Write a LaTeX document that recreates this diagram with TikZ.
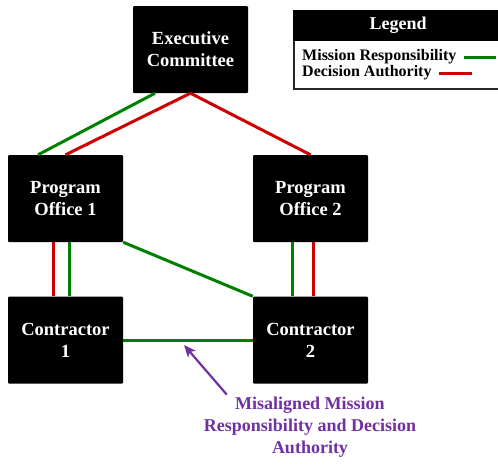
\documentclass[tikz,border=0pt]{standalone}
\usepackage{fontspec}
\setmainfont{Liberation Serif}
\usetikzlibrary{arrows.meta}
\definecolor{missiongreen}{RGB}{0,128,0}
\definecolor{decisionred}{RGB}{204,0,0}
\definecolor{notepurple}{RGB}{112,48,160}
\begin{document}
\begin{tikzpicture}[x=1pt,y=-1pt,%
      unit/.style={fill=black,rounded corners=1pt,text=white,%
        minimum width=115pt,minimum height=87pt,inner sep=0pt,%
        align=center,font=\bfseries\fontsize{18.5}{22}\selectfont},%
      mission/.style={draw=missiongreen,line width=3pt},%
      decision/.style={draw=decisionred,line width=3pt},%
      pointer/.style={draw=notepurple,line width=2.2pt,%
        -{Stealth[length=12pt,width=10pt,inset=3pt]}},%
      keytext/.style={anchor=base west,inner sep=0pt,%
        font=\bfseries\fontsize{16}{16}\selectfont}%
      ]
      \useasboundingbox (0,0) rectangle (498,464);%
      %% create nodes
      \node[unit] (exec) at (190.5,49.5) {Executive\\Committee};%
      \node[unit] (po1) at (65.5,198.5) {Program\\Office 1};%
      \node[unit] (po2) at (310.5,198.5) {Program\\Office 2};%
      \node[unit] (con1) at (65.5,340) {Contractor\\1};%
      \node[unit] (con2) at (310.5,340) {Contractor\\2};%
      %% draw mission lines
      \foreach \x/\y/\dx/\dy in
      {exec/po1/-35.5/-27.5,po1/con1/3.5/3.5,po2/con2/-18.5/-18.5} {%
        \draw[mission] ([xshift=\dx pt]\x.south) to ([xshift=\dy pt]\y.north);%
      }%
      \draw[mission] (po1.south east) to (con2.north west);%
      \draw[mission] (con1.east) to (con2.west);%
      %% draw decision lines
      \foreach \x/\y/\dx/\dy in
      {exec/po1/0/0,exec/po2/0/0,po1/con1/-12.5/-12.5,po2/con2/2.5/2.5} {%
        \draw[decision] ([xshift=\dx pt]\x.south) to ([xshift=\dy pt]\y.north);%
      }%
      %% legend
      \node[draw=black!85,line width=1.5pt,anchor=north west,inner sep=0pt,%
        minimum width=210pt,minimum height=78pt] (legend) at (293,10) {};%
      \node[fill=black,anchor=north west,inner sep=0pt,text=white,%
        minimum width=210pt,minimum height=31pt,%
        font=\bfseries\fontsize{18}{22}\selectfont] (legendhead)
      at (293,10) {Legend};%
      \node[keytext] (mrtext) at (302,60) {Mission Responsibility};%
      \node[keytext] (datext) at (302,76) {Decision Authority};%
      \draw[mission] ([xshift=7pt,yshift=3pt]mrtext.base east) to ++(32,0);%
      \draw[decision] ([xshift=7pt,yshift=3pt]datext.base east) to ++(33,0);%
      %% the note
      \node[text=notepurple,align=center,inner sep=0pt,%
        font=\bfseries\fontsize{18}{22}\selectfont] (misalign)
      at (310,427) {Misaligned Mission\\Responsibility and Decision\\Authority};%
      \coordinate (tip) at (184,345);%
      \draw[pointer] ([xshift=23pt,yshift=2pt]misalign.north west) to (tip);%
    \end{tikzpicture}
\end{document}
